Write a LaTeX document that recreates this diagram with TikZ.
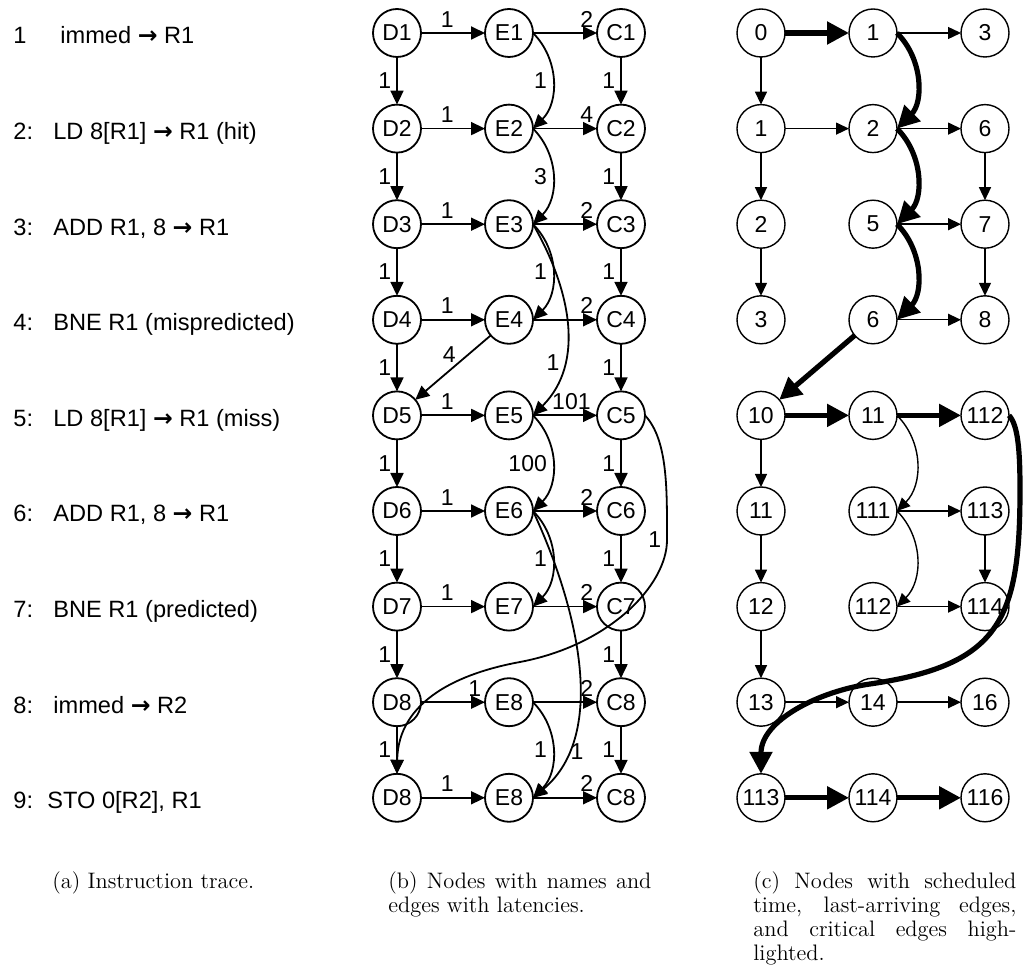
\documentclass[tikz,border=0pt]{standalone}
\usepackage{fontspec}
\newfontfamily\arialfont{Liberation Sans}
\newfontfamily\arrowfont{DejaVu Sans}
\newcommand{\toreg}{{\arrowfont\bfseries →}}
\usetikzlibrary{positioning,arrows.meta}
\tolerance=10000
\hbadness=10000
\tikzset{
  vtx/.style={circle,draw,line width=0.9pt,minimum size=24pt,inner sep=0pt,outer sep=0pt,
    font=\arialfont\fontsize{11.5}{13}\selectfont},
  svtx/.style={vtx,line width=0.7pt},
  dep/.style={-{Triangle[length=7pt,width=6.5pt]},line width=0.9pt},
  lastedge/.style={-{Triangle[length=6.5pt,width=6pt]},line width=0.7pt},
  crit/.style={-{Triangle[length=11pt,width=11pt]},line width=2.6pt},
  wt/.style={font=\arialfont\fontsize{11.5}{13}\selectfont,inner sep=2.5pt},
  instr/.style={anchor=base west,inner sep=0pt,font=\arialfont\fontsize{11.8}{14}\selectfont},
  capt/.style={anchor=base west,inner sep=0pt,text width=131.5pt,align=justify,
    font=\fontsize{11.2}{12}\selectfont},
}

\begin{document}
\begin{tikzpicture}[x=0.5pt,y=0.5pt,node distance=23.8pt and 32pt]
  \useasboundingbox (0,0) rectangle (1025,-973);
  % (a) instruction trace
  \node[instr] (i1) at (13,-44) {\makebox[23.5pt][l]{1}immed \toreg{} R1};
  \node[instr] (i2) at (13,-139.6) {\makebox[20pt][l]{2:}LD 8[R1] \toreg{} R1 (hit)};
  \node[instr] (i3) at (13,-235.2) {\makebox[20pt][l]{3:}ADD R1, 8 \toreg{} R1};
  \node[instr] (i4) at (13,-330.8) {\makebox[20pt][l]{4:}BNE R1 (mispredicted)};
  \node[instr] (i5) at (13,-426.4) {\makebox[20pt][l]{5:}LD 8[R1] \toreg{} R1 (miss)};
  \node[instr] (i6) at (13,-522) {\makebox[20pt][l]{6:}ADD R1, 8 \toreg{} R1};
  \node[instr] (i7) at (13,-617.6) {\makebox[20pt][l]{7:}BNE R1 (predicted)};
  \node[instr] (i8) at (13,-713.2) {\makebox[20pt][l]{8:}immed \toreg{} R2};
  \node[instr] (i9) at (13,-808.8) {\makebox[17pt][l]{9:}STO 0[R2], R1};

  % (b) names, rows top -> bottom
  \node[vtx] (d1) at (397,-33) {D1};
  \node[vtx,right=of d1] (e1) {E1};
  \node[vtx,right=of e1] (c1) {C1};
  \node[vtx,below=of d1] (d2) {D2};
  \node[vtx,right=of d2] (e2) {E2};
  \node[vtx,right=of e2] (c2) {C2};
  \node[vtx,below=of d2] (d3) {D3};
  \node[vtx,right=of d3] (e3) {E3};
  \node[vtx,right=of e3] (c3) {C3};
  \node[vtx,below=of d3] (d4) {D4};
  \node[vtx,right=of d4] (e4) {E4};
  \node[vtx,right=of e4] (c4) {C4};
  \node[vtx,below=of d4] (d5) {D5};
  \node[vtx,right=of d5] (e5) {E5};
  \node[vtx,right=of e5] (c5) {C5};
  \node[vtx,below=of d5] (d6) {D6};
  \node[vtx,right=of d6] (e6) {E6};
  \node[vtx,right=of e6] (c6) {C6};
  \node[vtx,below=of d6] (d7) {D7};
  \node[vtx,right=of d7] (e7) {E7};
  \node[vtx,right=of e7] (c7) {C7};
  \node[vtx,below=of d7] (d8) {D8};
  \node[vtx,right=of d8] (e8) {E8};
  \node[vtx,right=of e8] (c8) {C8};
  \node[vtx,below=of d8] (d9) {D8};
  \node[vtx,right=of d9] (e9) {E8};
  \node[vtx,right=of e9] (c9) {C8};

  % D -> E and E -> C
  \draw[dep] (d1) -- node[wt,above,pos=0.41]{1} (e1);
  \draw[dep] (d2) -- node[wt,above,pos=0.41]{1} (e2);
  \draw[dep] (d3) -- node[wt,above,pos=0.41]{1} (e3);
  \draw[dep] (d4) -- node[wt,above,pos=0.41]{1} (e4);
  \draw[dep] (d5) -- node[wt,above,pos=0.41]{1} (e5);
  \draw[dep] (d6) -- node[wt,above,pos=0.41]{1} (e6);
  \draw[dep] (d7) -- node[wt,above,pos=0.41]{1} (e7);
  \draw[dep] (d8) -- node[wt,above,pos=0.84]{1} (e8);
  \draw[dep] (d9) -- node[wt,above,pos=0.41]{1} (e9);
  \draw[dep] (e1) -- node[wt,above,pos=0.84]{2} (c1);
  \draw[dep] (e2) -- node[wt,above,pos=0.84]{4} (c2);
  \draw[dep] (e3) -- node[wt,above,pos=0.84]{2} (c3);
  \draw[dep] (e4) -- node[wt,above,pos=0.84]{2} (c4);
  \draw[dep] (e5) -- node[wt,above,pos=0.6]{101} (c5);
  \draw[dep] (e6) -- node[wt,above,pos=0.84]{2} (c6);
  \draw[dep] (e7) -- node[wt,above,pos=0.84]{2} (c7);
  \draw[dep] (e8) -- node[wt,above,pos=0.84]{2} (c8);
  \draw[dep] (e9) -- node[wt,above,pos=0.84]{2} (c9);
  % D and C chains
  \draw[dep] (d1) -- node[wt,left]{1} (d2);
  \draw[dep] (d2) -- node[wt,left]{1} (d3);
  \draw[dep] (d3) -- node[wt,left]{1} (d4);
  \draw[dep] (d4) -- node[wt,left]{1} (d5);
  \draw[dep] (d5) -- node[wt,left]{1} (d6);
  \draw[dep] (d6) -- node[wt,left]{1} (d7);
  \draw[dep] (d7) -- node[wt,left]{1} (d8);
  \draw[dep] (d8) -- node[wt,left]{1} (d9);
  \draw[dep] (c1) -- node[wt,left]{1} (c2);
  \draw[dep] (c2) -- node[wt,left]{1} (c3);
  \draw[dep] (c3) -- node[wt,left]{1} (c4);
  \draw[dep] (c4) -- node[wt,left]{1} (c5);
  \draw[dep] (c5) -- node[wt,left]{1} (c6);
  \draw[dep] (c6) -- node[wt,left]{1} (c7);
  \draw[dep] (c7) -- node[wt,left]{1} (c8);
  \draw[dep] (c8) -- node[wt,left]{1} (c9);
  % E -> E
  \draw[dep] (e1.east) to[bend left=45] node[wt,left]{1} (e2.east);
  \draw[dep] (e2.east) to[bend left=45] node[wt,left]{3} (e3.east);
  \draw[dep] (e3.east) to[bend left=45] node[wt,left]{1} (e4.east);
  \draw[dep] (e3.east) to[out=-60,in=45] node[wt,left=-1pt,pos=0.7]{1} (e5.east);
  \draw[dep] (e5.east) to[bend left=45] node[wt,left]{100} (e6.east);
  \draw[dep] (e6.east) to[bend left=45] node[wt,left]{1} (e7.east);
  \draw[dep] (e6.east) to[out=-65,in=40,looseness=0.9] node[wt,right=-1pt,pos=0.8]{1} (e9.east);
  \draw[dep] (e8.east) to[bend left=45] node[wt,left]{1} (e9.east);
  \draw[dep] (e4) -- node[wt,above=1pt,pos=0.55]{4} (d5);
  \draw[dep] (c5.east) .. controls (668,-440) and (667,-490) .. (667,-540) node[wt,left]{1}
    .. controls (667,-585) and (610,-645) .. (520,-662)
    .. controls (460,-673) and (398,-700) .. (d9.north);

  % (c) scheduled times
  \node[svtx] (s1d) at (761,-33) {0};
  \node[svtx,right=of s1d] (s1e) {1};
  \node[svtx,right=of s1e] (s1c) {3};
  \node[svtx,below=of s1d] (s2d) {1};
  \node[svtx,right=of s2d] (s2e) {2};
  \node[svtx,right=of s2e] (s2c) {6};
  \node[svtx,below=of s2d] (s3d) {2};
  \node[svtx,right=of s3d] (s3e) {5};
  \node[svtx,right=of s3e] (s3c) {7};
  \node[svtx,below=of s3d] (s4d) {3};
  \node[svtx,right=of s4d] (s4e) {6};
  \node[svtx,right=of s4e] (s4c) {8};
  \node[svtx,below=of s4d] (s5d) {10};
  \node[svtx,right=of s5d] (s5e) {11};
  \node[svtx,right=of s5e] (s5c) {112};
  \node[svtx,below=of s5d] (s6d) {11};
  \node[svtx,right=of s6d] (s6e) {111};
  \node[svtx,right=of s6e] (s6c) {113};
  \node[svtx,below=of s6d] (s7d) {12};
  \node[svtx,right=of s7d] (s7e) {112};
  \node[svtx,right=of s7e] (s7c) {114};
  \node[svtx,below=of s7d] (s8d) {13};
  \node[svtx,right=of s8d] (s8e) {14};
  \node[svtx,right=of s8e] (s8c) {16};
  \node[svtx,below=of s8d] (s9d) {113};
  \node[svtx,right=of s9d] (s9e) {114};
  \node[svtx,right=of s9e] (s9c) {116};

  % last-arriving edges
  \draw[lastedge] (s1e) -- (s1c);
  \draw[lastedge] (s1d) -- (s2d);
  \draw[lastedge] (s2d) -- (s2e);
  \draw[lastedge] (s2e) -- (s2c);
  \draw[lastedge] (s2d) -- (s3d);
  \draw[lastedge] (s2c) -- (s3c);
  \draw[lastedge] (s3e) -- (s3c);
  \draw[lastedge] (s3d) -- (s4d);
  \draw[lastedge] (s3c) -- (s4c);
  \draw[lastedge] (s4e) -- (s4c);
  \draw[lastedge] (s5d) -- (s6d);
  \draw[lastedge] (s5e.east) to[bend left=45] (s6e.east);
  \draw[lastedge] (s6e) -- (s6c);
  \draw[lastedge] (s6c) -- (s7c);
  \draw[lastedge] (s6e.east) to[bend left=45] (s7e.east);
  \draw[lastedge] (s7e) -- (s7c);
  \draw[lastedge] (s6d) -- (s7d);
  \draw[lastedge] (s7d) -- (s8d);
  \draw[lastedge] (s8d) -- (s8e);
  \draw[lastedge] (s8e) -- (s8c);
  % critical path
  \draw[crit] (s1d) -- (s1e);
  \draw[crit] (s1e.east) to[bend left=45] (s2e.east);
  \draw[crit] (s2e.east) to[bend left=45] (s3e.east);
  \draw[crit] (s3e.east) to[bend left=45] (s4e.east);
  \draw[crit] (s4e) -- (s5d);
  \draw[crit] (s5d) -- (s5e);
  \draw[crit] (s5e) -- (s5c);
  \draw[crit] (s5c.east) .. controls (1018,-425) and (1020,-450) .. (1020,-490)
    .. controls (1020,-620) and (1000,-665) .. (870,-684)
    .. controls (820,-691) and (761,-720) .. (s9d.north);
  \draw[crit] (s9d) -- (s9e);
  \draw[crit] (s9e) -- (s9c);

  % captions
  \node[anchor=base west,inner sep=0pt,font=\fontsize{11.2}{12}\selectfont] (capa) at (52,-889)
    {(a) Instruction trace.};
  \node[capt] (capb) at (388,-889) {(b) Nodes with names and\linebreak edges with latencies.};
  \node[capt] (capc) at (753,-889) {(c) Nodes with scheduled\linebreak time, last-arriving edges,\linebreak and critical edges high-\linebreak lighted.};
\end{tikzpicture}
\end{document}
